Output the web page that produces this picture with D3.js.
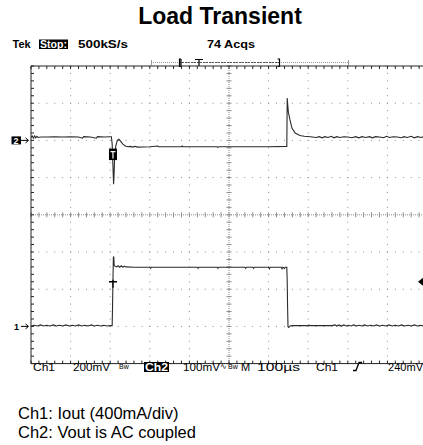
<!DOCTYPE html>
<html>
<head>
<meta charset="utf-8">
<script src="https://cdn.jsdelivr.net/npm/d3@7"></script>
<style>
  body { margin: 0; background: #fff; }
  svg { display: block; }
</style>
</head>
<body>
<div id="chart"></div>
<script>
// time in microseconds (100us/div), values in screen divisions
const timeDomain = [0, 1000]
const divDomain = [-4, 4]

const ch1Trace = [
  [0,-2.99],[8,-2.97],[16,-2.99],[24,-2.96],[32,-2.99],[40,-2.97],[48,-2.99],[56,-2.96],[64,-2.99],
  [72,-2.97],[80,-2.99],[88,-2.96],[96,-2.99],[104,-2.97],[112,-2.99],[120,-2.96],[128,-2.99],
  [136,-2.97],[144,-2.99],[152,-2.96],[160,-2.99],[168,-2.97],[176,-2.99],[184,-2.97],[192,-2.99],
  [200,-2.98],[205,-2.98],
  [206,-2.4],[207,-1.75],[208,-1.15],[209,-1.12],[210,-1.35],[212,-1.38],[216,-1.40],[220,-1.37],
  [224,-1.41],[228,-1.37],[232,-1.41],[236,-1.38],[240,-1.40],[260,-1.41],[300,-1.41],[302,-1.44],
  [304,-1.41],[420,-1.41],[422,-1.44],[424,-1.41],[470,-1.41],[472,-1.44],[474,-1.41],[540,-1.41],
  [542,-1.44],[544,-1.41],[560,-1.41],[562,-1.44],[564,-1.41],[600,-1.41],[602,-1.45],[604,-1.41],
  [632,-1.41],[634,-1.45],[636,-1.41],[640,-1.44],[642,-1.41],[646,-1.41],
  [647,-1.8],[648,-2.5],[649,-3.01],[651,-3.03],[654,-2.99],[660,-2.98],[700,-2.98],[702,-2.96],
  [704,-2.98],[760,-2.98],[768,-2.96],[772,-2.99],[778,-2.96],[784,-2.99],[790,-2.96],[796,-2.99],
  [802,-2.97],[808,-2.99],[815,-2.96],[822,-2.99],[828,-2.97],[836,-2.99],[842,-2.96],[850,-2.99],
  [858,-2.97],[866,-2.99],[872,-2.96],[880,-2.99],[888,-2.97],[896,-2.99],[904,-2.96],[912,-2.99],
  [920,-2.97],[928,-2.99],[936,-2.96],[944,-2.99],[952,-2.97],[960,-2.99],[968,-2.96],[976,-2.99],
  [984,-2.97],[992,-2.99],[1000,-2.97]
]

const ch2Trace = [
  [0,2.08],[3,2.12],[6,2.06],[9,2.12],[12,2.07],[15,2.11],[18,2.08],[25,2.09],[40,2.09],[60,2.10],
  [80,2.09],[100,2.10],[120,2.09],[130,2.06],[133,2.10],[150,2.09],[165,2.06],[168,2.10],[185,2.09],
  [200,2.10],[203,2.10],
  [205,1.9],[207,1.3],[208.5,0.82],[209.5,1.0],[211,1.5],[214,1.85],[218,2.0],[222,2.03],[226,1.98],
  [232,1.9],[238,1.85],[245,1.83],[250,1.84],[258,1.82],[262,1.84],[270,1.82],[300,1.83],[320,1.85],
  [322,1.83],[380,1.83],[382,1.85],[384,1.83],[420,1.83],[470,1.83],[472,1.81],[474,1.83],[540,1.83],
  [600,1.83],[646,1.84],
  [647,3.14],[648,3.0],[650,2.75],[654,2.55],[659,2.33],[667,2.2],[679,2.13],[690,2.11],[705,2.10],
  [720,2.08],[728,2.10],[735,2.07],[742,2.10],[750,2.08],[758,2.11],[765,2.07],[772,2.10],[780,2.08],
  [790,2.10],[800,2.09],[810,2.07],[820,2.10],[828,2.07],[836,2.10],[845,2.08],[855,2.10],[862,2.07],
  [870,2.10],[880,2.09],[890,2.07],[898,2.11],[905,2.08],[915,2.10],[925,2.09],[935,2.07],[942,2.10],
  [950,2.08],[960,2.11],[968,2.07],[976,2.10],[985,2.08],[992,2.10],[1000,2.08]
]

const ch1Ground = -3
const ch2Ground = 2
const triggerTime = 207
const triggerLevel = -1.8

const titleText = "Load Transient"
const footnotes = ["Ch1: Iout (400mA/div)", "Ch2: Vout is AC coupled"]

const width = 423, height = 445
const plot = { left: 31, right: 427, top: 66, bottom: 363.6 }

const svg = d3.select('#chart').append('svg')
  .attr('width', width)
  .attr('height', height)

const x = d3.scaleLinear().domain(timeDomain).range([plot.left, plot.right])
const y = d3.scaleLinear().domain(divDomain).range([plot.bottom, plot.top])

const scopeFont = "'Liberation Sans', Arial, sans-serif"

// title
svg.append('text')
  .attr('x', 220).attr('y', 24)
  .attr('text-anchor', 'middle')
  .attr('font-family', scopeFont)
  .attr('font-weight', 'bold')
  .attr('font-size', 23)
  .text(titleText)

// header line
const header = svg.append('g').attr('font-family', scopeFont).attr('font-size', 11)
header.append('text').attr('x', 12.5).attr('y', 47.5).attr('font-weight', 'bold').text('Tek')
header.append('rect').attr('x', 39).attr('y', 39.5).attr('width', 29).attr('height', 9.5).attr('fill', '#000')
header.append('text').attr('x', 40).attr('y', 47.5).attr('font-weight', 'bold').attr('fill', '#fff')
  .attr('textLength', 27).attr('lengthAdjust', 'spacingAndGlyphs').text('Stop:')
header.append('text').attr('x', 78).attr('y', 47.5).attr('font-weight', 'bold')
  .attr('textLength', 50).attr('lengthAdjust', 'spacingAndGlyphs').text('500kS/s')
header.append('text').attr('x', 207).attr('y', 47.5).attr('font-weight', 'bold')
  .attr('textLength', 48).attr('lengthAdjust', 'spacingAndGlyphs').text('74 Acqs')

// record bracket
const rec = svg.append('g').attr('stroke', '#999').attr('fill', 'none')
rec.append('line').attr('x1', 151).attr('x2', 349).attr('y1', 62.5).attr('y2', 62.5)
  .attr('stroke-dasharray', '1,1')
rec.append('line').attr('x1', 179).attr('x2', 279).attr('y1', 62.5).attr('y2', 62.5)
  .attr('stroke', '#555').attr('stroke-dasharray', '2,1')
rec.selectAll('.end').data([151.5, 348.5]).enter().append('line')
  .attr('x1', d => d).attr('x2', d => d).attr('y1', 60).attr('y2', 65)
const blk = svg.append('g').attr('stroke', '#000').attr('fill', 'none').attr('stroke-width', 1.2)
blk.append('path').attr('d', 'M181,59V66.5H179.5V59H181')
blk.append('path').attr('d', 'M195,59.5H203M199,59.5V66')
blk.append('path').attr('d', 'M277.5,59H279.5V66.5H277.5')

// graticule
const grid = svg.append('g').attr('fill', '#8c8c8c')
const majorT = d3.range(100, 1000, 100).filter(t => t !== 500)
const majorV = d3.range(-3, 4, 1).filter(v => v !== 0)
const minorT = d3.range(0, 1000.1, 20)
const minorV = d3.range(-4, 4.01, 0.2)

majorT.forEach(t => {
  grid.selectAll(null).data(minorV).enter().append('rect')
    .attr('x', x(t) - 0.5).attr('y', d => y(d) - 0.5)
    .attr('width', 1).attr('height', 1)
})
majorV.forEach(v => {
  grid.selectAll(null).data(minorT).enter().append('rect')
    .attr('x', d => x(d) - 0.5).attr('y', y(v) - 0.5)
    .attr('width', 1).attr('height', 1)
})

const axes = svg.append('g').attr('stroke', '#8c8c8c').attr('stroke-width', 1)
axes.append('line').attr('x1', x(0)).attr('x2', x(1000)).attr('y1', y(0)).attr('y2', y(0))
  .attr('stroke-dasharray', '1,1')
axes.append('line').attr('x1', x(500)).attr('x2', x(500)).attr('y1', y(4)).attr('y2', y(-4))
  .attr('stroke-dasharray', '1,1')
axes.selectAll(null).data(minorT).enter().append('line')
  .attr('x1', d => x(d)).attr('x2', d => x(d))
  .attr('y1', y(0) - 2.5).attr('y2', y(0) + 2.5)
axes.selectAll(null).data(minorV).enter().append('line')
  .attr('x1', x(500) - 2.5).attr('x2', x(500) + 2.5)
  .attr('y1', d => y(d)).attr('y2', d => y(d))

// frame
const frame = svg.append('g').attr('stroke', '#222').attr('stroke-width', 1)
frame.append('line').attr('x1', x(0)).attr('x2', width).attr('y1', y(4)).attr('y2', y(4))
frame.append('line').attr('x1', x(0)).attr('x2', width).attr('y1', y(-4)).attr('y2', y(-4))
frame.append('line').attr('x1', x(0)).attr('x2', x(0)).attr('y1', y(4)).attr('y2', y(-4))
frame.selectAll(null).data(minorT).enter().append('line')
  .attr('x1', d => x(d)).attr('x2', d => x(d)).attr('y1', y(4)).attr('y2', y(4) + 3)
frame.selectAll(null).data(minorT).enter().append('line')
  .attr('x1', d => x(d)).attr('x2', d => x(d)).attr('y1', y(-4)).attr('y2', y(-4) - 3)
frame.selectAll(null).data(minorV).enter().append('line')
  .attr('x1', x(0)).attr('x2', x(0) + 3).attr('y1', d => y(d)).attr('y2', d => y(d))

// traces
svg.append('clipPath').attr('id', 'clip').append('rect')
  .attr('x', plot.left).attr('y', plot.top).attr('width', width - plot.left).attr('height', plot.bottom - plot.top)
const line = d3.line().x(d => x(d[0])).y(d => y(d[1]))
const traces = svg.append('g').attr('clip-path', 'url(#clip)')
  .attr('fill', 'none').attr('stroke', '#2b2b2b').attr('stroke-width', 1.1)
traces.append('path').attr('d', line(ch1Trace))
traces.append('path').attr('d', line(ch2Trace))

// channel ground markers
const gm = svg.append('g').attr('font-family', scopeFont).attr('font-weight', 'bold').attr('font-size', 9)
gm.append('rect').attr('x', 11.5).attr('y', y(ch2Ground) - 4).attr('width', 9.5).attr('height', 8).attr('fill', '#000')
gm.append('text').attr('x', 13.5).attr('y', y(ch2Ground) + 3.3).attr('fill', '#fff').text('2')
gm.append('text').attr('x', 14).attr('y', y(ch1Ground) + 3.3).text('1')
;[ch2Ground, ch1Ground].forEach(v => {
  gm.append('path')
    .attr('d', `M21,${y(v)}H28M25.5,${y(v) - 2.5}L28.5,${y(v)}L25.5,${y(v) + 2.5}`)
    .attr('stroke', '#000').attr('fill', 'none').attr('stroke-width', 1)
})

// trigger position marker
const tx = x(triggerTime)
svg.append('rect').attr('x', tx - 4).attr('y', y(1.78)).attr('width', 8).attr('height', 11.5).attr('fill', '#000')
svg.append('path').attr('d', `M${tx - 2.5},${y(1.78) + 3}H${tx + 2.5}M${tx},${y(1.78) + 3}V${y(1.78) + 10}`)
  .attr('stroke', '#fff').attr('stroke-width', 1.2)

// trigger level crosshair and arrow
svg.append('path').attr('d', `M${tx - 4},${y(triggerLevel)}H${tx + 4}M${tx},${y(triggerLevel) - 2}V${y(triggerLevel) + 6}`)
  .attr('stroke', '#000').attr('stroke-width', 1.3)
svg.append('path').attr('d', `M${width},${y(triggerLevel) - 4}L${width - 5},${y(triggerLevel)}L${width},${y(triggerLevel) + 4}Z`)
  .attr('fill', '#000')

// bottom status line
const status = svg.append('g').attr('font-family', scopeFont).attr('font-size', 11)
const sy = 370.5
status.append('text').attr('x', 33).attr('y', sy).attr('textLength', 22).attr('lengthAdjust', 'spacingAndGlyphs').text('Ch1')
status.append('text').attr('x', 73).attr('y', sy).attr('textLength', 37).attr('lengthAdjust', 'spacingAndGlyphs').text('200mV')
status.append('text').attr('x', 119).attr('y', sy - 2).attr('font-size', 7).text('Bw')
status.append('rect').attr('x', 144).attr('y', 362).attr('width', 25).attr('height', 10).attr('fill', '#000')
status.append('text').attr('x', 145).attr('y', sy).attr('fill', '#fff').attr('font-weight', 'bold')
  .attr('textLength', 23).attr('lengthAdjust', 'spacingAndGlyphs').text('Ch2')
status.append('text').attr('x', 183).attr('y', sy).attr('textLength', 37).attr('lengthAdjust', 'spacingAndGlyphs').text('100mV')
status.append('text').attr('x', 220).attr('y', sy - 2).attr('font-size', 8).text('∿')
status.append('text').attr('x', 228).attr('y', sy - 2).attr('font-size', 7).text('Bw')
status.append('text').attr('x', 241).attr('y', sy).text('M')
status.append('text').attr('x', 257).attr('y', sy).attr('textLength', 43).attr('lengthAdjust', 'spacingAndGlyphs').text('100µs')
status.append('text').attr('x', 316).attr('y', sy).attr('textLength', 22).attr('lengthAdjust', 'spacingAndGlyphs').text('Ch1')
status.append('path').attr('d', `M353,${sy}H356L359,${sy - 8}H362`).attr('stroke', '#000').attr('fill', 'none').attr('stroke-width', 1.3)
status.append('text').attr('x', 388).attr('y', sy).attr('textLength', 35).attr('lengthAdjust', 'spacingAndGlyphs').text('240mV')

// footnotes
svg.append('g').selectAll('text').data(footnotes).enter().append('text')
  .attr('x', 18).attr('y', (d, i) => 419 + i * 19)
  .attr('font-family', scopeFont).attr('font-size', 16.5)
  .text(d => d)
</script>
</body>
</html>
